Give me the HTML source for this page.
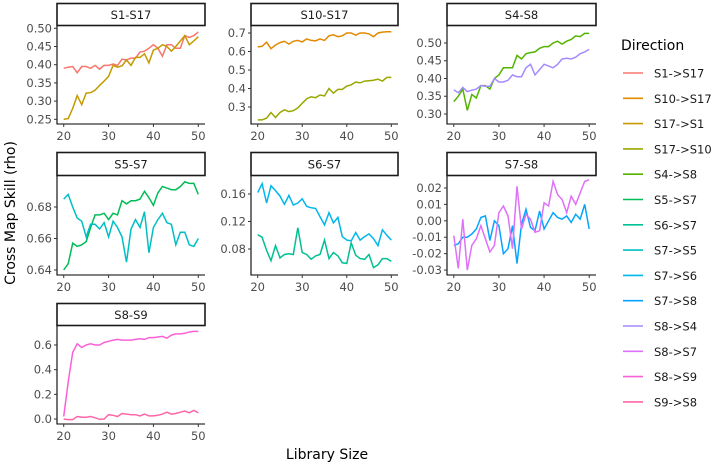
<!DOCTYPE html>
<html><head><meta charset="utf-8">
<style>
html,body{margin:0;padding:0;background:#fff;}
svg{display:block;font-family:"DejaVu Sans","Liberation Sans",sans-serif;}
</style></head>
<body>
<svg id="chart" width="720" height="463" viewBox="0 0 720 463"></svg>
<script>
const xValues = [20,21,22,23,24,25,26,27,28,29,30,31,32,33,34,35,36,37,38,39,40,41,42,43,44,45,46,47,48,49,50];
const xTicks = [20,30,40,50];
const directions = ["S1->S17","S10->S17","S17->S1","S17->S10","S4->S8","S5->S7","S6->S7","S7->S5","S7->S6","S7->S8","S8->S4","S8->S7","S8->S9","S9->S8"];
const colors = ["#F8766D","#E38900","#C49A00","#99A800","#53B400","#00BC56","#00C094","#00BFC4","#00B6EB","#06A4FF","#A58AFF","#DF70F8","#FB61D7","#FF66A8"];
const panelTitles = ["S1-S17","S10-S17","S4-S8","S5-S7","S6-S7","S7-S8","S8-S9"];
const panelSeries = [["S1->S17","S17->S1"],["S10->S17","S17->S10"],["S4->S8","S8->S4"],["S5->S7","S7->S5"],["S7->S6","S6->S7"],["S7->S8","S8->S7"],["S8->S9","S9->S8"]];
const yTickValues = [[0.25,0.30,0.35,0.40,0.45,0.50],[0.3,0.4,0.5,0.6,0.7],[0.30,0.35,0.40,0.45,0.50],[0.64,0.66,0.68],[0.08,0.12,0.16],[-0.03,-0.02,-0.01,0.00,0.01,0.02],[0.0,0.2,0.4,0.6]];
const yTickLabels = [["0.25","0.30","0.35","0.40","0.45","0.50"],["0.3","0.4","0.5","0.6","0.7"],["0.30","0.35","0.40","0.45","0.50"],["0.64","0.66","0.68"],["0.08","0.12","0.16"],["-0.03","-0.02","-0.01","0.00","0.01","0.02"],["0.0","0.2","0.4","0.6"]];
const yDomains = [[0.2371,0.5063],[0.208,0.7378],[0.2718,0.5479],[0.6368,0.6997],[0.0422,0.1862],[-0.0330,0.0273],[-0.0405,0.754]];

const s1_s17 = [0.39,0.393,0.395,0.378,0.395,0.395,0.39,0.398,0.388,0.398,0.398,0.402,0.398,0.415,0.413,0.418,0.418,0.435,0.437,0.445,0.455,0.445,0.423,0.455,0.455,0.445,0.445,0.48,0.475,0.48,0.49];
const s17_s1 = [0.25,0.252,0.28,0.315,0.29,0.322,0.323,0.33,0.343,0.355,0.368,0.398,0.393,0.397,0.413,0.398,0.42,0.42,0.43,0.405,0.44,0.445,0.455,0.45,0.437,0.45,0.465,0.48,0.455,0.465,0.477];
const s10_s17 = [0.625,0.628,0.65,0.615,0.635,0.648,0.655,0.64,0.655,0.66,0.652,0.668,0.66,0.658,0.668,0.66,0.685,0.69,0.68,0.685,0.7,0.7,0.688,0.7,0.7,0.695,0.68,0.7,0.705,0.707,0.707];
const s17_s10 = [0.23,0.23,0.24,0.27,0.243,0.27,0.285,0.275,0.28,0.295,0.32,0.345,0.355,0.35,0.365,0.36,0.4,0.375,0.395,0.395,0.413,0.42,0.435,0.43,0.44,0.442,0.445,0.45,0.44,0.46,0.46];
const s4_s8 = [0.335,0.35,0.37,0.31,0.355,0.345,0.38,0.38,0.37,0.4,0.41,0.43,0.43,0.43,0.465,0.455,0.47,0.473,0.475,0.485,0.49,0.49,0.5,0.505,0.497,0.505,0.51,0.52,0.518,0.527,0.527];
const s8_s4 = [0.368,0.36,0.375,0.363,0.367,0.37,0.38,0.378,0.378,0.4,0.39,0.39,0.395,0.41,0.405,0.405,0.43,0.44,0.41,0.425,0.44,0.435,0.43,0.44,0.455,0.457,0.455,0.46,0.47,0.475,0.482];
const s5_s7 = [0.64,0.644,0.657,0.655,0.656,0.658,0.667,0.675,0.675,0.676,0.672,0.676,0.675,0.684,0.682,0.684,0.684,0.685,0.69,0.686,0.681,0.689,0.693,0.692,0.691,0.691,0.693,0.696,0.695,0.695,0.688];
const s7_s5 = [0.685,0.688,0.68,0.673,0.671,0.661,0.669,0.669,0.666,0.67,0.661,0.671,0.667,0.661,0.645,0.666,0.672,0.667,0.677,0.651,0.667,0.672,0.676,0.67,0.669,0.656,0.664,0.664,0.656,0.655,0.66];
const s7_s6 = [0.162,0.175,0.147,0.172,0.165,0.157,0.145,0.158,0.144,0.147,0.153,0.142,0.14,0.139,0.127,0.115,0.133,0.118,0.126,0.098,0.093,0.092,0.104,0.093,0.098,0.102,0.095,0.085,0.108,0.1,0.093];
const s6_s7 = [0.101,0.097,0.078,0.063,0.085,0.067,0.072,0.073,0.072,0.111,0.075,0.072,0.065,0.07,0.072,0.093,0.066,0.075,0.07,0.06,0.059,0.089,0.071,0.066,0.065,0.072,0.053,0.057,0.066,0.066,0.062];
const s7_s8 = [-0.015,-0.014,-0.01,-0.01,-0.008,-0.005,0.002,0.003,-0.012,0.0,-0.003,-0.02,-0.017,-0.003,-0.026,-0.002,0.007,-0.004,-0.006,0.006,-0.005,0.0,0.005,0.002,0.001,0.003,-0.001,0.004,0.001,0.01,-0.005];
const s8_s7 = [-0.009,-0.029,0.001,-0.03,-0.015,-0.011,-0.003,-0.011,-0.019,-0.015,0.005,0.009,0.003,-0.017,0.021,-0.005,0.004,0.001,-0.007,-0.006,0.011,0.009,0.024,0.016,0.013,0.005,0.015,0.01,0.017,0.024,0.025];
const s8_s9 = [0.02,0.3,0.54,0.61,0.58,0.6,0.61,0.6,0.6,0.62,0.63,0.64,0.645,0.64,0.64,0.64,0.645,0.65,0.645,0.66,0.66,0.665,0.67,0.655,0.68,0.69,0.69,0.695,0.705,0.71,0.71];
const s9_s8 = [0.0,-0.005,-0.005,0.02,0.015,0.015,0.02,0.01,-0.002,0.0,0.035,0.03,0.02,0.045,0.04,0.035,0.035,0.025,0.04,0.025,0.025,0.03,0.04,0.055,0.04,0.045,0.055,0.065,0.05,0.07,0.05];

const seriesData = {"S1->S17":s1_s17,"S17->S1":s17_s1,"S10->S17":s10_s17,"S17->S10":s17_s10,"S4->S8":s4_s8,"S8->S4":s8_s4,"S5->S7":s5_s7,"S7->S5":s7_s5,"S7->S6":s7_s6,"S6->S7":s6_s7,"S7->S8":s7_s8,"S8->S7":s8_s7,"S8->S9":s8_s9,"S9->S8":s9_s8};

const NS = "http://www.w3.org/2000/svg";
const svg = document.getElementById('chart');
function mk(tag, attrs, parent){const e=document.createElementNS(NS,tag);for(const k in attrs)e.setAttribute(k,attrs[k]);(parent||svg).appendChild(e);return e;}

const colX = [[57,205],[251,398],[447,596]];
const rowY = [[3,26,124],[152,176,275],[303,326,424]];
const xMin = 18.5, xMax = 51.5;

for (let p=0;p<7;p++){
  const c = p<6 ? p%3 : 0, r = Math.floor(p/3);
  const [x0,x1] = colX[c]; const [sy,y0,y1] = rowY[r];
  const [dmin,dmax] = yDomains[p];
  const xs = v => x0 + (v-xMin)/(xMax-xMin)*(x1-x0);
  const ys = v => y1 - (v-dmin)/(dmax-dmin)*(y1-y0);
  const g = mk('g',{});
  
  
  const strip = mk('rect',{x:x0,y:sy+0.5,width:x1-x0,height:y0-sy-1,fill:'#fff',stroke:'#1a1a1a','stroke-width':1.6},g);
  
  
  const st = mk('text',{x:(x0+x1)/2,y:(sy+y0)/2+4.5,'text-anchor':'middle','font-size':'11.5',fill:'#1a1a1a'},g);
  st.textContent = panelTitles[p];
  
  
  const ax = mk('path',{d:`M${x0},${y0} L${x0},${y1} L${x1},${y1}`,fill:'none',stroke:'#000','stroke-width':1.1},g);
  
  
  yTickValues[p].forEach((v,i)=>{
    const y = ys(v);
    mk('line',{x1:x0-3,x2:x0,y1:y,y2:y,stroke:'#333','stroke-width':1},g);
    const t = mk('text',{x:x0-5,y:y+4,'text-anchor':'end','font-size':'11.5',fill:'#4d4d4d'},g);
    t.textContent = yTickLabels[p][i];
    
    
  });
  xTicks.forEach(v=>{
    const x = xs(v);
    mk('line',{x1:x,x2:x,y1:y1,y2:y1+3,stroke:'#333','stroke-width':1},g);
    const t = mk('text',{x:x,y:y1+16,'text-anchor':'middle','font-size':'11.5',fill:'#4d4d4d'},g);
    t.textContent = v;
    
    
  });
  panelSeries[p].forEach(name=>{
    const vals = seriesData[name];
    const d = vals.map((v,i)=>(i?'L':'M')+xs(xValues[i]).toFixed(1)+','+ys(v).toFixed(1)).join(' ');
    const ln = mk('path',{d:d,fill:'none',stroke:colors[directions.indexOf(name)],'stroke-width':1.5},g);
    
    
  });
}

const yt = mk('text',{x:0,y:0,transform:'translate(15,213) rotate(-90)','text-anchor':'middle','font-size':'14',fill:'#000'});
yt.textContent = 'Cross Map Skill (rho)';


const xt = mk('text',{x:327,y:459,'text-anchor':'middle','font-size':'14',fill:'#000'});
xt.textContent = 'Library Size';



const lg = mk('g',{});


const lt = mk('text',{x:621,y:50,'font-size':'14',fill:'#000'},lg);
lt.textContent = 'Direction';


directions.forEach((name,i)=>{
  const y = 73 + i*25.3;
  const e = mk('g',{},lg);
  
  
  mk('line',{x1:623,x2:643,y1:y,y2:y,stroke:colors[i],'stroke-width':1.6},e);
  const t = mk('text',{x:654,y:y+4.5,'font-size':'11.5',fill:'#1a1a1a'},e);
  t.textContent = name;
});
</script>
</body></html>
